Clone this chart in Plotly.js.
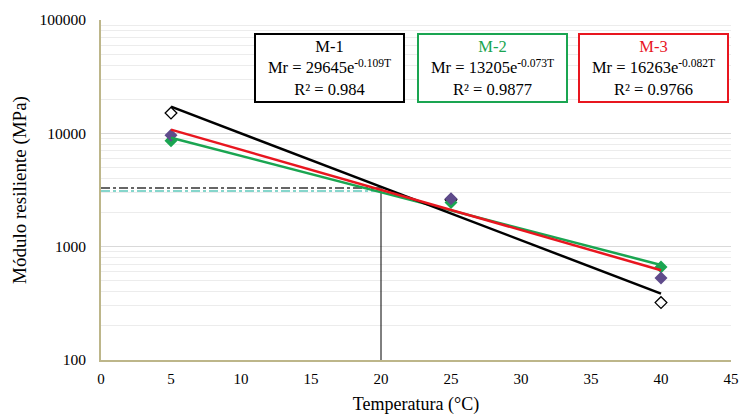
<!DOCTYPE html>
<html>
<head>
<meta charset="utf-8">
<script src="https://cdn.plot.ly/plotly-3.0.1.min.js"></script>
<style>html,body{margin:0;padding:0;background:#fff;}#chart{width:739px;height:416px;}</style>
</head>
<body>
<div id="chart"></div>
<script>
// Measured points (temperature in °C, resilient modulus in MPa)
const temps = [5, 25, 40];
const m1Values = [15100, 2600, 321];
const m2Values = [8600, 2450, 662];
const m3Values = [9600, 2650, 529];

// Exponential trendline ends (straight on log axis)
const trendTemps = [5, 40];
const m1Trend = [17200, 385];
const m2Trend = [9150, 690];
const m3Trend = [10780, 620];

// Reference lines at 20 °C
const refTemp = 20;
const refM1 = 3300;
const refM2 = 3100;

const xTicks = [0, 5, 10, 15, 20, 25, 30, 35, 40, 45];
const yTicks = [100, 1000, 10000, 100000];
const yTickText = ['100', '1000', '10000', '100000'];

const labels = [
  {name: 'M-1', eq: 'Mr = 29645e<sup>-0.109T</sup>', r2: 'R² = 0.984', color: '#000000'},
  {name: 'M-2', eq: 'Mr = 13205e<sup>-0.073T</sup>', r2: 'R² = 0.9877', color: '#1aa551'},
  {name: 'M-3', eq: 'Mr = 16263e<sup>-0.082T</sup>', r2: 'R² = 0.9766', color: '#e8161f'}
];

const serif = 'Liberation Serif, Times New Roman, serif';

const traces = [
  {x: [0, refTemp], y: [refM2, refM2], mode: 'lines', line: {color: '#5fc9bc', width: 1.5, dash: 'dashdot'}, hoverinfo: 'skip'},
  {x: [0, refTemp], y: [refM1, refM1], mode: 'lines', line: {color: '#666666', width: 2, dash: 'dashdot'}, hoverinfo: 'skip'},
  {x: [refTemp, refTemp], y: [100, refM1], mode: 'lines', line: {color: '#000000', width: 1}, hoverinfo: 'skip'},
  {x: temps, y: m1Values, mode: 'markers', name: 'M-1', marker: {symbol: 'diamond-open', size: 9, color: '#000000', line: {width: 1.3}}},
  {x: temps, y: m2Values, mode: 'markers', name: 'M-2', marker: {symbol: 'diamond', size: 10, color: '#1aa551'}},
  {x: temps, y: m3Values, mode: 'markers', name: 'M-3', marker: {symbol: 'diamond', size: 10, color: '#5f4b8b'}},
  {x: trendTemps, y: m2Trend, mode: 'lines', line: {color: '#1aa551', width: 2.5}, hoverinfo: 'skip'},
  {x: trendTemps, y: m1Trend, mode: 'lines', line: {color: '#000000', width: 2.5}, hoverinfo: 'skip'},
  {x: trendTemps, y: m3Trend, mode: 'lines', line: {color: '#e8161f', width: 2.5}, hoverinfo: 'skip'}
];

const centers = [0.362, 0.621, 0.877];
const annotations = labels.map((l, i) => ({
  xref: 'paper', yref: 'paper', x: centers[i], y: 0.962, xanchor: 'center', yanchor: 'top',
  text: '<span style="color:' + l.color + '">' + l.name + '</span><br>' + l.eq + '<br>' + l.r2,
  showarrow: false, align: 'center',
  font: {family: serif, size: 16.5, color: '#000'},
  bgcolor: '#ffffff', bordercolor: l.color, borderwidth: 2, borderpad: 1,
  width: 145, height: 64
}));

const layout = {
  width: 739, height: 416,
  margin: {l: 101, r: 8, t: 20, b: 56},
  paper_bgcolor: '#ffffff', plot_bgcolor: '#ffffff',
  showlegend: false,
  font: {family: serif, size: 16, color: '#000'},
  xaxis: {
    range: [0, 45], tickvals: xTicks, ticks: '', showgrid: false, zeroline: false,
    showline: true, linecolor: '#bdb68a', linewidth: 2, automargin: false,
    ticklabelstandoff: 4,
    tickfont: {family: serif, size: 15, color: '#000'},
    title: {text: 'Temperatura (°C)', font: {family: serif, size: 18, color: '#000'}, standoff: 11}
  },
  yaxis: {
    type: 'log', range: [2, 5], tickvals: yTicks, ticktext: yTickText, ticks: '',
    showgrid: true, gridcolor: '#d9d9d9', gridwidth: 1, automargin: false,
    minor: {dtick: 'D1', showgrid: true, gridcolor: '#ececec', gridwidth: 1, ticks: ''},
    showline: true, linecolor: '#bdb68a', linewidth: 2, zeroline: false,
    ticklabelstandoff: 10,
    tickfont: {family: serif, size: 15.5, color: '#000'},
    title: {text: 'Módulo resiliente (MPa)', font: {family: serif, size: 19, color: '#000'}, standoff: 8}
  },
  annotations: annotations
};

Plotly.newPlot('chart', traces, layout, {displayModeBar: false, staticPlot: true});
</script>
</body>
</html>
